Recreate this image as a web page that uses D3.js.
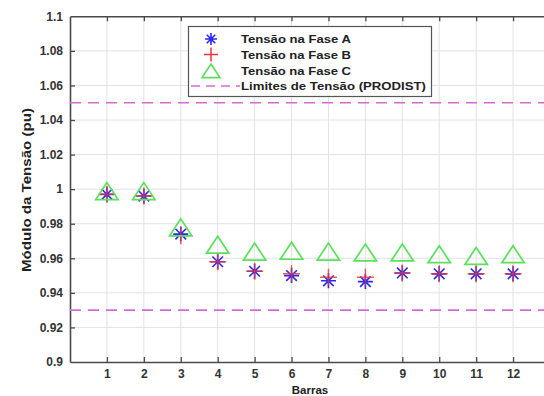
<!DOCTYPE html>
<html>
<head>
<meta charset="utf-8">
<script src="https://cdn.jsdelivr.net/npm/d3@7"></script>
<style>
  html, body { margin: 0; padding: 0; background: #fff; }
  svg { display: block; font-family: "Liberation Sans", Arial, sans-serif; }
</style>
</head>
<body>
<svg id="chart" width="544" height="396"></svg>
<script>
// Bus numbers along the feeder
const barras = [1, 2, 3, 4, 5, 6, 7, 8, 9, 10, 11, 12];
// Voltage magnitude per phase (pu)
const faseA = [0.997, 0.996, 0.974, 0.958, 0.9525, 0.950, 0.947, 0.9465, 0.9515, 0.951, 0.951, 0.951];
const faseB = [0.997, 0.996, 0.973, 0.958, 0.9525, 0.951, 0.949, 0.949, 0.9515, 0.951, 0.951, 0.951];
const faseC = [0.998, 0.998, 0.977, 0.967, 0.963, 0.9635, 0.963, 0.9625, 0.9625, 0.9615, 0.9605, 0.9615];
// PRODIST voltage limits
const limites = [1.05, 0.93];
// Axis ticks
const yTicks = [0.9, 0.92, 0.94, 0.96, 0.98, 1, 1.02, 1.04, 1.06, 1.08, 1.1];
const yTickLabels = ["0.9", "0.92", "0.94", "0.96", "0.98", "1", "1.02", "1.04", "1.06", "1.08", "1.1"];
const legendLabels = ["Tensão na Fase A", "Tensão na Fase B", "Tensão na Fase C", "Limites de Tensão (PRODIST)"];

const colA = "#2a2af0", colB = "#e8343c", colC = "#5ae05a", colLim = "#d868d8";

const svg = d3.select("#chart");
const mLeft = 70, mRight = 550, mTop = 16.3, mBottom = 362;

const x = d3.scaleLinear().domain([0, 13]).range([mLeft, mRight]);
const y = d3.scaleLinear().domain([0.9, 1.1]).range([mBottom, mTop]);

// grid
const grid = svg.append("g").attr("stroke", "#e2e2e2").attr("stroke-width", 1);
grid.selectAll("line.gx").data(barras).join("line")
  .attr("x1", d => x(d)).attr("x2", d => x(d)).attr("y1", mTop).attr("y2", mBottom);
grid.selectAll("line.gy").data(yTicks.slice(1, -1)).join("line")
  .attr("y1", d => y(d)).attr("y2", d => y(d)).attr("x1", mLeft).attr("x2", mRight);

// axes (inward ticks, box style)
const tickLen = 5;
const axisCol = "#4a4a4a";
const axB = svg.append("g").attr("transform", `translate(0,${mBottom})`)
  .call(d3.axisBottom(x).tickValues(barras).tickSizeInner(-tickLen).tickSizeOuter(0).tickPadding(7));
const axT = svg.append("g").attr("transform", `translate(0,${mTop})`)
  .call(d3.axisTop(x).tickValues(barras).tickSizeInner(-tickLen).tickSizeOuter(0).tickFormat(""));
const axL = svg.append("g").attr("transform", `translate(${mLeft},0)`)
  .call(d3.axisLeft(y).tickValues(yTicks).tickSizeInner(-tickLen).tickSizeOuter(0).tickPadding(7)
    .tickFormat((d, i) => yTickLabels[i]));
[axB, axT, axL].forEach(g => {
  g.select(".domain").attr("stroke", axisCol).attr("stroke-width", 1.6);
  g.selectAll(".tick line").attr("stroke", axisCol).attr("stroke-width", 1.3);
  g.selectAll(".tick text").attr("fill", "#333").attr("font-size", 12).attr("font-weight", "bold")
    .attr("font-family", "'Liberation Sans', Arial, sans-serif");
});
axL.selectAll(".tick").filter(d => d === 0.9 || d === 1.1).select("line").remove();

// limit lines
svg.append("g").selectAll("line").data(limites).join("line")
  .attr("x1", mLeft).attr("x2", mRight).attr("y1", d => y(d)).attr("y2", d => y(d))
  .attr("stroke", colLim).attr("stroke-width", 1.6).attr("stroke-dasharray", "11,7");

// marker paths
const asterisk = r => {
  const d = r * Math.SQRT1_2;
  return `M${-r},0L${r},0M0,${-r}L0,${r}M${-d},${-d}L${d},${d}M${-d},${d}L${d},${-d}`;
};
const plus = r => `M${-r},0L${r},0M0,${-r}L0,${r}`;
const tri = r => `M0,${-r}L${r * 1.12},${r * 0.7}L${-r * 1.12},${r * 0.7}Z`;

function drawSeries(vals, path, color, w, op) {
  svg.append("g").selectAll("path").data(vals).join("path")
    .attr("transform", (d, i) => `translate(${x(barras[i])},${y(d)})`)
    .attr("d", path).attr("fill", "none").attr("stroke", color)
    .attr("stroke-width", w).attr("stroke-opacity", op);
}
drawSeries(faseA, asterisk(7.5), colA, 1.6, 1);
drawSeries(faseB, plus(8.5), colB, 1.5, 0.8);
drawSeries(faseC, tri(10), colC, 1.7, 1);

// legend
const lg = svg.append("g");
lg.append("rect").attr("x", 188.5).attr("y", 26.5).attr("width", 243).attr("height", 70)
  .attr("fill", "#fff").attr("stroke", "#555").attr("stroke-width", 1.2);
const rowsY = [39, 54.5, 71, 86];
const lenText = [110, 110, 110, 185];
const symX = 211;
lg.append("path").attr("transform", `translate(${symX},${rowsY[0]})`).attr("d", asterisk(6))
  .attr("fill", "none").attr("stroke", colA).attr("stroke-width", 1.6);
lg.append("path").attr("transform", `translate(${symX},${rowsY[1]})`).attr("d", plus(7))
  .attr("fill", "none").attr("stroke", colB).attr("stroke-width", 1.5);
lg.append("path").attr("transform", `translate(${symX},${rowsY[2] + 1})`).attr("d", tri(8))
  .attr("fill", "none").attr("stroke", colC).attr("stroke-width", 1.7);
lg.append("line").attr("x1", 191).attr("x2", 240).attr("y1", rowsY[3]).attr("y2", rowsY[3])
  .attr("stroke", colLim).attr("stroke-width", 1.6).attr("stroke-dasharray", "9,6");
lg.selectAll("text").data(legendLabels).join("text")
  .attr("x", 241).attr("y", (d, i) => rowsY[i]).attr("dy", "0.36em")
  .attr("font-size", 11.5).attr("font-weight", "bold").attr("fill", "#222")
  .attr("textLength", (d, i) => lenText[i]).attr("lengthAdjust", "spacingAndGlyphs")
  .text(d => d);

// axis titles
svg.append("text").attr("transform", `translate(31,190) rotate(-90)`)
  .attr("text-anchor", "middle").attr("font-size", 12.5).attr("font-weight", "bold").attr("fill", "#222")
  .attr("textLength", 164).attr("lengthAdjust", "spacingAndGlyphs")
  .text("Módulo da Tensão (pu)");
svg.append("text").attr("x", x(6.5)).attr("y", 393.5)
  .attr("text-anchor", "middle").attr("font-size", 11.5).attr("font-weight", "bold").attr("fill", "#222")
  .text("Barras");
</script>
</body>
</html>
